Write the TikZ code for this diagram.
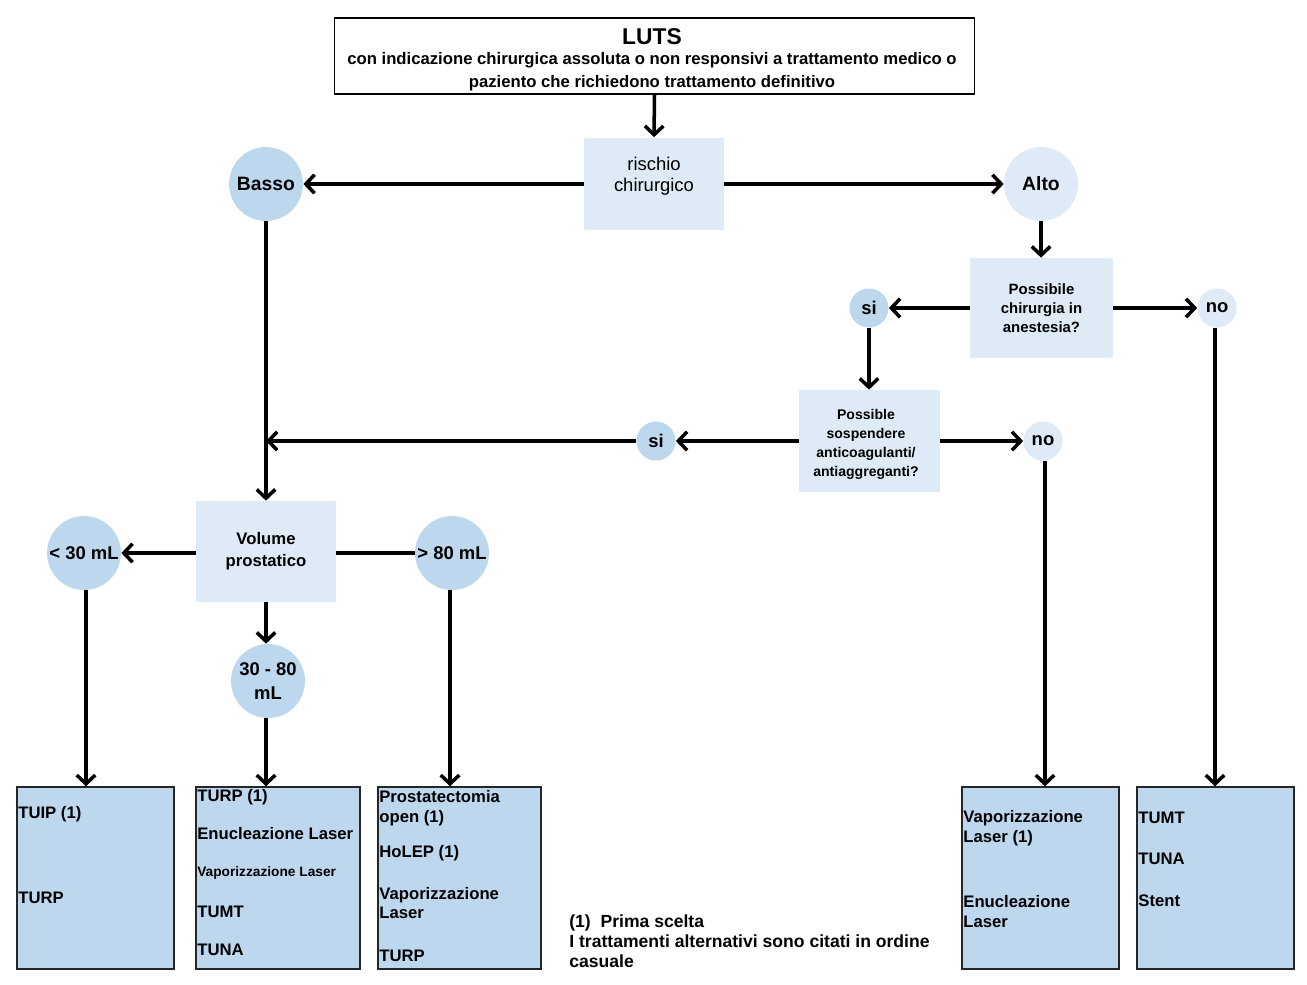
\documentclass[tikz,border=0pt]{standalone}
\usepackage{fontspec}
\setmainfont{Liberation Sans}
\usetikzlibrary{arrows.meta}
\definecolor{pale}{HTML}{DEEBF7}
\definecolor{mid}{HTML}{BDD7EE}
\definecolor{edge}{HTML}{262626}
\tikzset{
  conn/.style={line width=2pt, -{Straight Barb[length=5pt,width=10.5pt]}},
  plainbox/.style={fill=pale, align=center, inner sep=0pt},
  bigdot/.style={circle, fill=mid, minimum size=1.48cm, inner sep=0pt, font=\bfseries\fontsize{10.5}{12.5}\selectfont, align=center},
  smalldot/.style={circle, minimum size=0.78cm, inner sep=0pt, font=\bfseries\fontsize{10.5}{12}\selectfont},
  endbox/.style={draw=edge, line width=0.8pt, fill=mid, minimum height=3.64cm, inner sep=0pt},
  item/.style={anchor=west, inner sep=0pt, align=left, font=\bfseries\fontsize{9.5}{11.2}\selectfont}
}
\begin{document}
\begin{tikzpicture}[x=0.02cm, y=-0.02cm]
    \useasboundingbox (0,0) rectangle (1307,984) ;
    % top
    \node [draw, line width=0.6pt, minimum width=12.82cm, minimum height=1.52cm] (luts) at (654.5,56) {} ;
    \node [font=\bfseries\fontsize{13}{15}\selectfont] (lutstitle) at (652,37) {LUTS} ;
    \node [font=\bfseries\fontsize{9.5}{13}\selectfont, align=center] (lutstext) at (652,71.5) {con indicazione chirurgica assoluta o non responsivi a trattamento medico o\\paziento che richiedono trattamento definitivo} ;
    \node [plainbox, minimum width=2.8cm, minimum height=1.86cm] (rischio) at (654,184) {} ;
    \node [align=center, inner sep=0pt, font=\fontsize{10.5}{12}\selectfont] (rischiotext) at (654,176) {rischio\\chirurgico} ;
    \node [bigdot, font=\bfseries\fontsize{11}{13}\selectfont] (basso) at (266,184) {Basso} ;
    \node [bigdot, fill=pale, font=\bfseries\fontsize{11}{13}\selectfont] (alto) at (1041,184) {Alto} ;
    % alto side
    \node [plainbox, minimum width=2.86cm, minimum height=2cm, font=\bfseries\fontsize{8.5}{10.8}\selectfont] (chir) at (1041.5,308) {Possibile\\chirurgia in\\anestesia?} ;
    \node [smalldot, fill=mid] (si1) at (869,308) {si} ;
    \node [smalldot, fill=pale] (no1) at (1217,308) {no} ;
    \node [plainbox, minimum width=2.82cm, minimum height=2.04cm] (sosp) at (869.5,441) {} ;
    \node [align=center, inner sep=0pt, font=\bfseries\fontsize{8}{10.8}\selectfont] (sosptext) at (866,444) {Possible\\sospendere\\anticoagulanti/\\antiaggreganti?} ;
    \node [smalldot, fill=mid] (si2) at (656,441) {si} ;
    \node [smalldot, fill=pale] (no2) at (1043,441) {no} ;
    % volume
    \node [plainbox, minimum width=2.8cm, minimum height=2.02cm, font=\bfseries\fontsize{9.5}{12.5}\selectfont] (vol) at (266,551.5) {Volume\\prostatico} ;
    \node [bigdot] (lt30) at (84,553) {< 30 mL} ;
    \node [bigdot] (gt80) at (452,553) {> 80 mL} ;
    \node [bigdot, font=\bfseries\fontsize{10.5}{13.5}\selectfont] (midvol) at (268,681) {30 - 80\\mL} ;
    % bottom boxes
    \node [endbox, minimum width=3.14cm] (box1) at (95.5,878) {} ;
    \node [endbox, minimum width=3.28cm] (box2) at (278,878) {} ;
    \node [endbox, minimum width=3.26cm] (box3) at (459.5,878) {} ;
    \node [endbox, minimum width=3.14cm] (box4) at (1040.5,878) {} ;
    \node [endbox, minimum width=3.14cm] (box5) at (1215.5,878) {} ;
    \node [item] (b1a) at (18,814) {TUIP (1)} ;
    \node [item] (b1b) at (18,898) {TURP} ;
    \node [item] (b2a) at (197,797) {TURP (1)} ;
    \node [item] (b2b) at (197,834) {Enucleazione Laser} ;
    \node [item, font=\bfseries\fontsize{7.8}{9}\selectfont] (b2c) at (197,873) {Vaporizzazione Laser} ;
    \node [item] (b2d) at (197,912) {TUMT} ;
    \node [item] (b2e) at (197,950) {TUNA} ;
    \node [item] (b3a) at (379,808.5) {Prostatectomia\\open (1)} ;
    \node [item] (b3b) at (379,853) {HoLEP (1)} ;
    \node [item] (b3c) at (379,903) {Vaporizzazione\\Laser} ;
    \node [item] (b3d) at (379,956) {TURP} ;
    \node [item] (b4a) at (963,828) {Vaporizzazione\\Laser (1)} ;
    \node [item] (b4b) at (963,911.5) {Enucleazione\\Laser} ;
    \node [item] (b5a) at (1138,818) {TUMT} ;
    \node [item] (b5b) at (1138,859) {TUNA} ;
    \node [item] (b5c) at (1138,901) {Stent} ;
    \node [anchor=west, inner sep=0pt, align=left, font=\bfseries\fontsize{10}{11.5}\selectfont] (note) at (569,941) {(1)~~Prima scelta\\I trattamenti alternativi sono citati in ordine\\casuale} ;
    % connectors
    \draw [conn] (luts.south) -- (rischio.north) ;
    \draw [conn] (rischio.west) -- (basso.east) ;
    \draw [conn] (rischio.east) -- (alto.west) ;
    \draw [conn] (alto.south) -- (alto.south |- chir.north) ;
    \draw [conn] (chir.west) -- (si1.east) ;
    \draw [conn] (chir.east) -- (no1.west) ;
    \draw [conn] (si1.south) -- (si1.south |- sosp.north) ;
    \draw [conn] (sosp.west) -- (si2.east) ;
    \draw [conn] (si2.west) -- (si2.west -| basso.south) ;
    \draw [conn] (sosp.east) -- (no2.west) ;
    \draw [conn] (basso.south) -- (vol.north) ;
    \draw [conn] (lt30.east -| vol.west) -- (lt30.east) ;
    \draw [line width=2pt] (gt80.west -| vol.east) -- (gt80.west) ;
    \draw [conn] (vol.south -| basso.south) -- (midvol.north -| basso.south) ;
    \draw [conn] ([xshift=0.04cm]lt30.south) -- ([xshift=0.04cm]lt30.south |- box1.north) ;
    \draw [conn] (basso.south |- midvol.south) -- (basso.south |- box2.north) ;
    \draw [conn] ([xshift=-0.04cm]gt80.south) -- ([xshift=-0.04cm]gt80.south |- box3.north) ;
    \draw [conn] ([xshift=0.04cm]no2.south) -- ([xshift=0.04cm]no2.south |- box4.north) ;
    \draw [conn] ([xshift=-0.04cm]no1.south) -- ([xshift=-0.04cm]no1.south |- box5.north) ;
\end{tikzpicture}
\end{document}
